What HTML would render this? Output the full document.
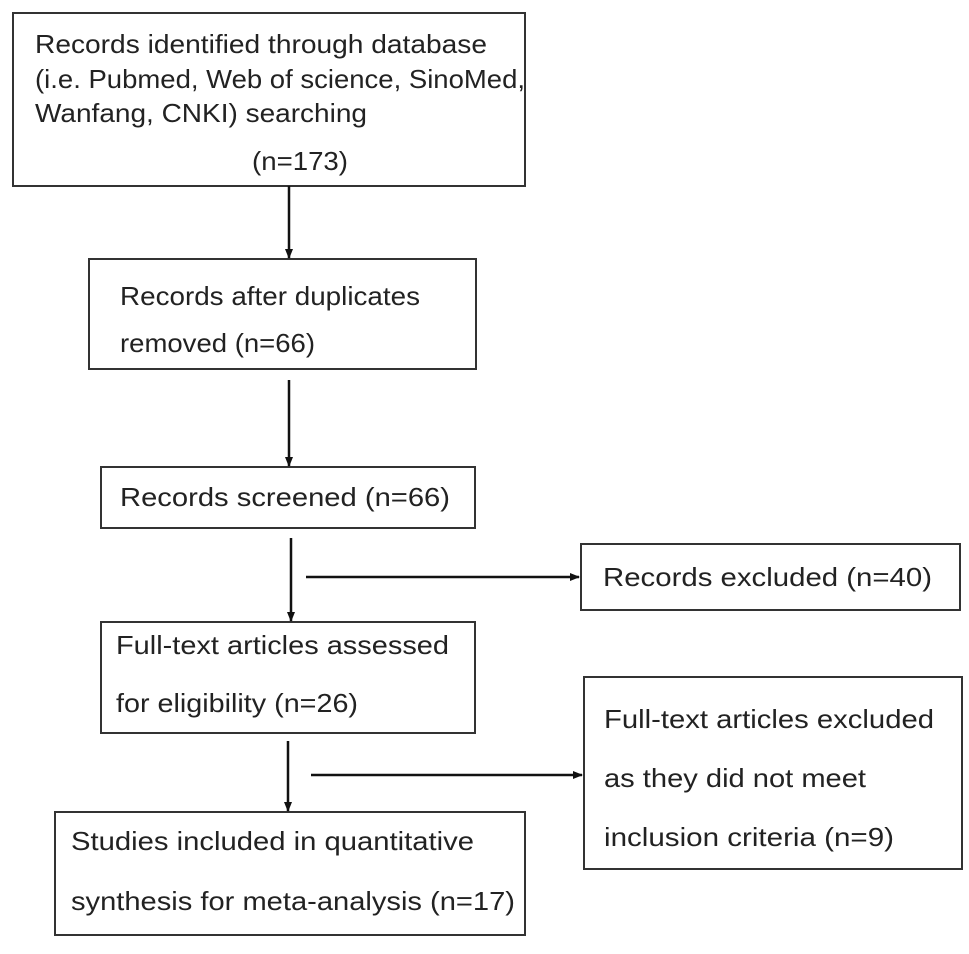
<!DOCTYPE html>
<html><head><style>body{margin:0;background:#fff}</style></head><body>
<svg width="969" height="949" viewBox="0 0 969 949" xmlns="http://www.w3.org/2000/svg" font-family="Liberation Sans, sans-serif" font-size="26" fill="#222">
<defs><marker id="a" markerWidth="10" markerHeight="10" refX="9" refY="5" orient="auto" markerUnits="userSpaceOnUse"><path d="M0,1 L10,5 L0,9 z" fill="#111"/></marker></defs>
<g fill="none" stroke="#333" stroke-width="2">
<rect x="13" y="13" width="512" height="173"/>
<rect x="89" y="259" width="387" height="110"/>
<rect x="101" y="467" width="374" height="61"/>
<rect x="581" y="544" width="379" height="66"/>
<rect x="101" y="622" width="374" height="111"/>
<rect x="584" y="677" width="378" height="192"/>
<rect x="55" y="812" width="470" height="123"/>
</g>
<g stroke="#111" stroke-width="2.5" marker-end="url(#a)">
<line x1="289" y1="186" x2="289" y2="258"/>
<line x1="289" y1="380" x2="289" y2="466"/>
<line x1="291" y1="538" x2="291" y2="621"/>
<line x1="306" y1="577" x2="579" y2="577"/>
<line x1="288" y1="741" x2="288" y2="811"/>
<line x1="311" y1="775" x2="582" y2="775"/>
</g>
<g>
<text x="35" y="53" textLength="452" lengthAdjust="spacingAndGlyphs">Records identified through database</text>
<text x="35" y="88" textLength="490" lengthAdjust="spacingAndGlyphs">(i.e. Pubmed, Web of science, SinoMed,</text>
<text x="35" y="122" textLength="332" lengthAdjust="spacingAndGlyphs">Wanfang, CNKI) searching</text>
<text x="252" y="170" textLength="96" lengthAdjust="spacingAndGlyphs">(n=173)</text>
<text x="120" y="305" textLength="300" lengthAdjust="spacingAndGlyphs">Records after duplicates</text>
<text x="120" y="352" textLength="195" lengthAdjust="spacingAndGlyphs">removed (n=66)</text>
<text x="120" y="506" textLength="330" lengthAdjust="spacingAndGlyphs">Records screened (n=66)</text>
<text x="603" y="586" textLength="329" lengthAdjust="spacingAndGlyphs">Records excluded (n=40)</text>
<text x="116" y="654" textLength="333" lengthAdjust="spacingAndGlyphs">Full-text articles assessed</text>
<text x="116" y="712" textLength="242" lengthAdjust="spacingAndGlyphs">for eligibility (n=26)</text>
<text x="604" y="728" textLength="330" lengthAdjust="spacingAndGlyphs">Full-text articles excluded</text>
<text x="604" y="787" textLength="262" lengthAdjust="spacingAndGlyphs">as they did not meet</text>
<text x="604" y="846" textLength="290" lengthAdjust="spacingAndGlyphs">inclusion criteria (n=9)</text>
<text x="71" y="850" textLength="403" lengthAdjust="spacingAndGlyphs">Studies included in quantitative</text>
<text x="71" y="910" textLength="444" lengthAdjust="spacingAndGlyphs">synthesis for meta-analysis (n=17)</text>
</g>
</svg>
</body></html>
